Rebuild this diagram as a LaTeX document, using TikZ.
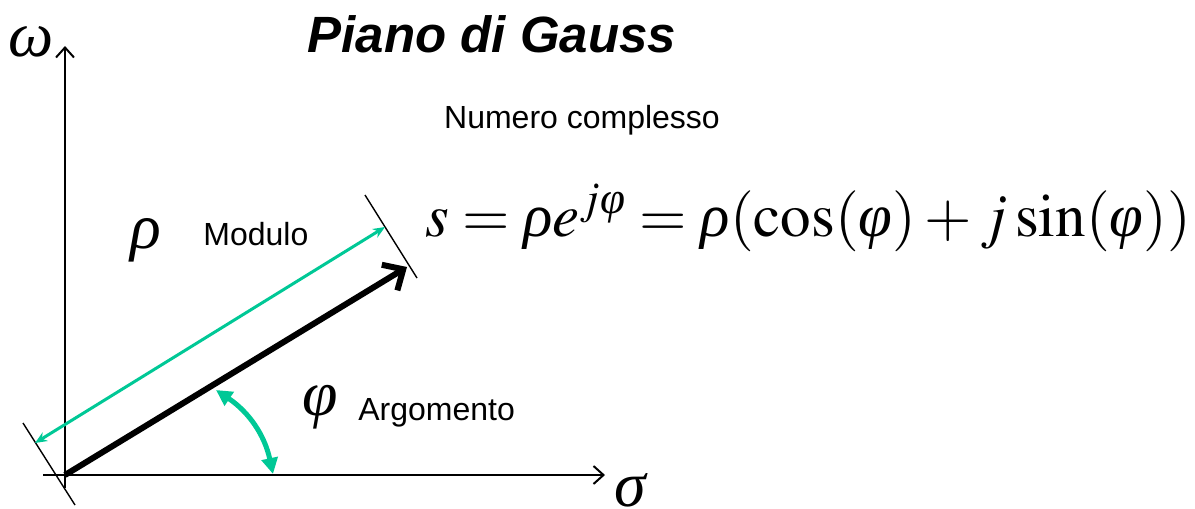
\documentclass[tikz,border=0pt]{standalone}
\usepackage{amsmath}
\usepackage{mathptmx}
\usepackage[no-math]{fontspec}
\setmainfont{Liberation Serif}
\setsansfont{Liberation Sans}
\usepackage{tikz}
\usetikzlibrary{arrows.meta}
\definecolor{gaussgreen}{RGB}{0,200,150}
% slanted Greek taken from the text font
\newcommand{\grho}{\textit{ρ}}
\newcommand{\gphi}{\textit{φ}}
\newcommand{\gomega}{\textit{ω}}
\newcommand{\gsigma}{\textit{σ}}

\begin{document}
\begin{tikzpicture}[
        x=0.5pt, y=-0.5pt,
        % axes thin with open heads, vector thick
        axis/.style  ={line width=1pt, -{Straight Barb[length=5pt,width=9pt]}},
        tickln/.style={line width=0.7pt},
        vec/.style   ={line width=3pt, -{Straight Barb[length=8pt,width=15pt]}},
        modarr/.style={draw=gaussgreen, line width=1.5pt,
                       {Stealth[length=6pt,width=5pt]}-{Stealth[length=6pt,width=5pt]}},
        argarr/.style={draw=gaussgreen, line width=2.5pt,
                       {Triangle[length=8pt,width=8pt]}-{Triangle[length=8pt,width=8pt]}},
        greek/.style ={font=\fontsize{32}{38}\selectfont, inner sep=0pt},
        lbl/.style   ={font=\sffamily\fontsize{16}{19}\selectfont, inner sep=0pt},
        ttl/.style   ={font=\sffamily\bfseries\itshape\fontsize{25.5}{30}\selectfont, inner sep=0pt}
    ]
    \useasboundingbox (0,0) rectangle (1195,509);

    %% ===== axes =====
    \coordinate (O) at (65,475);
    \coordinate (Obot) at (65,488);
    \coordinate (Oleft) at (43,475);
    \coordinate (Wtop) at (65,46);
    \coordinate (Sright) at (605,475);
    \draw[axis] (Obot) -- (Wtop);
    \draw[axis] (Oleft) -- (Sright);
    \node[greek] (omega) at (31,42) {\gomega};
    \node[greek] (sigma) at (631,490) {\gsigma};

    %% ===== vector s and its end marks =====
    \coordinate (S) at (407,267);
    \coordinate (T0a) at (23,423); \coordinate (T0b) at (75,505);
    \coordinate (T1a) at (365,195); \coordinate (T1b) at (417,278);
    \draw[tickln] (T0a) -- (T0b);
    \draw[tickln] (T1a) -- (T1b);
    \draw[vec] (O) -- (S);

    %% ===== modulus and argument =====
    \coordinate (M0) at (35,443); \coordinate (M1) at (385,227);
    \draw[modarr] (M0) -- (M1);
    \coordinate (A0) at (216,390); \coordinate (A1) at (273,474);
    \draw[argarr] (A0) to[bend left=22] (A1);

    \node[greek] (rho) at (146,240) {\grho};
    \node[lbl, anchor=base west] (modulo) at (203,245) {Modulo};
    \node[greek] (phi) at (320,407) {\gphi};
    \node[lbl, anchor=base west] (argomento) at (358,420) {Argomento};

    %% ===== title and formula =====
    \node[ttl] (title) at (492,34) {Piano di Gauss};
    \node[lbl, anchor=base] (numero) at (582,128) {Numero complesso};
    \node[font=\fontsize{30.5}{37}\selectfont, inner sep=0pt, anchor=base west] (formula)
        at (425,236) {$s=\grho e^{j\gphi}=\grho(\cos(\gphi)+j\sin(\gphi))$};

\end{tikzpicture}
\end{document}
